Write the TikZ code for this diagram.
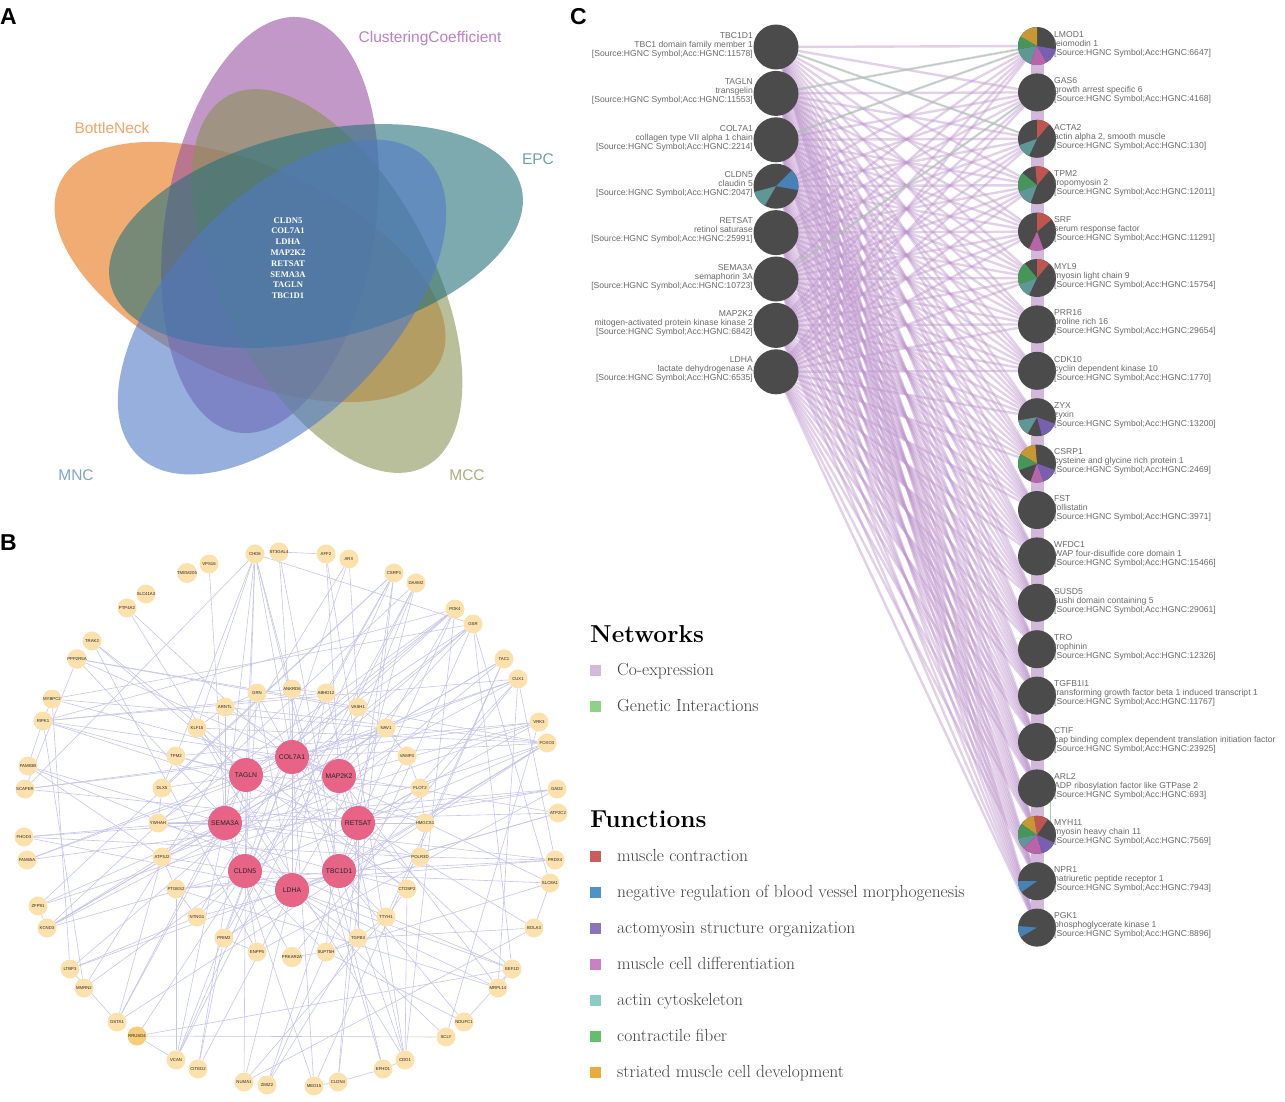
\documentclass[tikz,border=0pt]{standalone}
\usepackage{fontspec}
\newfontfamily\arialf{Liberation Sans}
\newfontfamily\timesf{Liberation Serif}
\pgfdeclarelayer{bg}
\pgfsetlayers{bg,main}
\definecolor{vOr}{RGB}{232,117,22}
\definecolor{vPu}{RGB}{152,83,163}
\definecolor{vTe}{RGB}{38,113,122}
\definecolor{vBl}{RGB}{80,122,197}
\definecolor{vOl}{RGB}{138,147,88}
\definecolor{tOr}{RGB}{240,165,105}
\definecolor{tPu}{RGB}{190,125,200}
\definecolor{tTe}{RGB}{110,160,165}
\definecolor{tBl}{RGB}{130,160,215}
\definecolor{tOl}{RGB}{170,175,130}
\definecolor{yel}{RGB}{252,225,172}
\definecolor{yeld}{RGB}{248,205,120}
\definecolor{hubc}{RGB}{232,100,135}
\definecolor{edgec}{RGB}{196,196,236}
\definecolor{cgray}{RGB}{75,75,75}
\definecolor{labg}{RGB}{105,105,105}
\definecolor{coex}{RGB}{190,150,205}
\definecolor{bandc}{RGB}{210,185,220}
\definecolor{gen}{RGB}{160,215,160}
\definecolor{pRed}{RGB}{190,85,80}
\definecolor{pBlue}{RGB}{70,130,180}
\definecolor{pPur}{RGB}{120,95,175}
\definecolor{pPink}{RGB}{185,100,170}
\definecolor{pTeal}{RGB}{95,150,150}
\definecolor{pGreen}{RGB}{70,150,90}
\definecolor{pOr}{RGB}{200,150,50}
\definecolor{lCo}{RGB}{210,185,220}
\definecolor{lGe}{RGB}{140,210,135}
\definecolor{lRed}{RGB}{200,95,90}
\definecolor{lBlue}{RGB}{80,145,200}
\definecolor{lPur}{RGB}{140,115,190}
\definecolor{lPink}{RGB}{200,130,195}
\definecolor{lTeal}{RGB}{140,205,195}
\definecolor{lGreen}{RGB}{100,190,110}
\definecolor{lOr}{RGB}{235,170,60}
\newcommand\pslice[5]{\fill[#5] (#1.center) -- ++(#3:#2) arc[start angle=#3,end angle=#4,radius=#2] -- cycle;}
\tikzset{
  venn/.style={fill opacity=0.6},
  vlab/.style={font=\arialf\fontsize{15.5}{16}\selectfont, inner sep=0pt},
  plab/.style={font=\arialf\bfseries\fontsize{23}{23}\selectfont, inner sep=0pt, anchor=base west},
  ynode/.style={circle, fill=yel, minimum size=19pt, inner sep=0pt, font=\arialf\fontsize{4.3}{4.3}\selectfont, text=black!85},
  hub/.style={circle, fill=hubc, minimum size=34pt, inner sep=0pt, font=\arialf\fontsize{6.8}{7}\selectfont, text=black!85},
  bedge/.style={draw=edgec, line width=0.6pt},
  cL/.style={circle, fill=cgray, minimum size=45pt, inner sep=0pt},
  cR/.style={circle, fill=cgray, minimum size=38pt, inner sep=0pt},
  clab/.style={font=\arialf\fontsize{8.6}{9}\selectfont, text=labg, inner sep=0pt},
  coexp/.style={draw=coex, line width=2.4pt, opacity=0.45},
  band/.style={draw=bandc, line width=13pt},
  genl/.style={draw=gen, line width=0.7pt},
  legsq/.style={minimum size=11pt, inner sep=0pt},
  legtxt/.style={font=\fontsize{17.5}{17.5}\selectfont, text=black!75, anchor=base west, inner sep=0pt},
  leghead/.style={font=\bfseries\fontsize{24.5}{24.5}\selectfont, anchor=base west, inner sep=0pt}
}
\begin{document}
\begin{tikzpicture}[x=1pt,y=-1pt]
\useasboundingbox (0,0) rectangle (1285,1101);
% ---------------- Panel A ----------------
\node[plab] (labA) at (0,24) {A};
\fill[vOr, venn, rotate around={-25:(250,272)}] (250,272) ellipse [x radius=210, y radius=105];
\fill[vPu, venn, rotate around={81:(270,225)}] (270,225) ellipse [x radius=210, y radius=105];
\fill[vOl, venn, rotate around={-62:(327,281)}] (327,281) ellipse [x radius=210, y radius=105];
\fill[vTe, venn, rotate around={13:(316,236)}] (316,236) ellipse [x radius=211, y radius=104];
\fill[vBl, venn, rotate around={46:(282,307)}] (282,307) ellipse [x radius=207, y radius=110];
\node[vlab, text=tPu] (lCC) at (430,38) {ClusteringCoefficient};
\node[vlab, text=tOr] (lBN) at (112,128) {BottleNeck};
\node[vlab, text=tTe] (lEPC) at (538,159) {EPC};
\node[vlab, text=tBl] (lMNC) at (76,475) {MNC};
\node[vlab, text=tOl] (lMCC) at (467,475) {MCC};
\node[font=\timesf\bfseries\fontsize{8.6}{10.8}\selectfont, text=white, align=center, inner sep=0pt] (core) at (288,258)
  {CLDN5\\COL7A1\\LDHA\\MAP2K2\\RETSAT\\SEMA3A\\TAGLN\\TBC1D1};
% ---------------- Panel B ----------------
\node[plab] (labB) at (0,550) {B};
\foreach \n/\x/\y in {CHD6/255/554, ST3GAL4/279/552, AFF2/326/554, ARX/349/559, VPS16/209/564, TMEM205/187/573,
  CSRP1/394/573, DAAM2/416/583, SLC41A3/146/594, PTP4A2/127/608, PDK4/455/609, GSR/473/624, TRAK2/92/641,
  PPP2R5A/77/659, TAC1/504/659, CUX1/518/679, MYBPC2/52/699, RIPK1/43/721, VRK3/539/722, FOXO3/547/743,
  FAM83B/28/766, SCAPER/25/789, GAD2/557/789, ATP2C2/558/813, FHOD3/24/837, FAM65A/27/860, PRDX4/555/860,
  SLC8A1/550/883, ZFP91/38/906, KCND3/47/928, BOLA3/534/928, LTBP3/70/969, EEF1D/512/969, MMRN2/84/988,
  MRPL14/498/988, GSTA1/117/1022, NDUFC1/464/1022, SCLY/446/1037, VCAN/176/1060, CITED2/198/1069,
  CDO1/405/1060, EFHD1/383/1069, NUMA1/244/1082, ZMIZ2/267/1085, MED15/314/1086, CLDN4/338/1082,
  GRN/257/693, ANKRD6/292/689, ABHD12/326/693, ARNTL/225/707, VASH1/358/707, KLF15/197/728, NAV1/386/728,
  TPM2/176/756, VAMP3/407/756, DLX5/162/788, FLOT2/420/788, YWHAH/158/823, HMGCS1/425/823, ATP5J2/162/857,
  POLR3D/420/857, PTGES2/176/889, CTDSP2/407/889, NTNG1/197/917, TTYH1/386/917, PRIM2/224/938, TGFB3/358/938,
  ENPP5/257/952, SUPT5H/326/952, PRKAR2A/292/957}
  \node[ynode] (b\n) at (\x,\y) {\n};
\node[ynode, fill=yeld] (bRRUSD4) at (137,1036) {RRUSD4};
\foreach \n/\x/\y in {COL7A1/292/757, TAGLN/246/775, MAP2K2/339/776, SEMA3A/225/823, RETSAT/358/823,
  CLDN5/245/871, TBC1D1/339/871, LDHA/292/890}
  \node[hub] (b\n) at (\x,\y) {\n};
\begin{pgfonlayer}{bg}
\foreach \t in {CHD6,CSRP1,PDK4,GRN,NAV1,SCAPER,FOXO3,CUX1,VCAN,PRIM2,EFHD1,TAGLN,LDHA,RIPK1,SLC8A1,ANKRD6,MAP2K2}
  \draw[bedge] (bCOL7A1) -- (b\t);
\foreach \t in {CHD6,TRAK2,RIPK1,PDK4,GSR,TPM2,KLF15,DLX5,FLOT2,GSTA1,NUMA1,CTDSP2,HMGCS1,FAM65A,CITED2,SEMA3A}
  \draw[bedge] (bTAGLN) -- (b\t);
\foreach \t in {AFF2,DAAM2,CUX1,VRK3,ATP2C2,NAV1,VASH1,PPP2R5A,MYBPC2,YWHAH,SUPT5H,CDO1,MRPL14,KCND3,ARNTL,RETSAT}
  \draw[bedge] (bMAP2K2) -- (b\t);
\foreach \t in {CHD6,VPS16,FAM83B,FHOD3,ZFP91,ATP5J2,YWHAH,GSR,TAC1,PRDX4,POLR3D,MED15,VCAN,GSTA1,ARNTL,CLDN5}
  \draw[bedge] (bSEMA3A) -- (b\t);
\foreach \t in {CSRP1,PDK4,VRK3,GAD2,HMGCS1,FLOT2,PTP4A2,RIPK1,SCAPER,TGFB3,EEF1D,BOLA3,CLDN4,ABHD12,TBC1D1}
  \draw[bedge] (bRETSAT) -- (b\t);
\foreach \t in {CHD6,ARX,TAC1,GSR,ATP5J2,NTNG1,RRUSD4,MMRN2,KCND3,ENPP5,SLC8A1,FOXO3,SUPT5H,GRN,PRKAR2A,LDHA}
  \draw[bedge] (bCLDN5) -- (b\t);
\foreach \t in {DAAM2,CUX1,FOXO3,PRDX4,CTDSP2,TTYH1,NDUFC1,CDO1,ZMIZ2,PTGES2,LTBP3,YWHAH,VAMP3,CHD6,ST3GAL4,LDHA}
  \draw[bedge] (bTBC1D1) -- (b\t);
\foreach \t in {GRN,TGFB3,PRIM2,CITED2,NUMA1,SCLY,MRPL14,EEF1D,ATP2C2,FHOD3,PPP2R5A,PDK4,ABHD12,KLF15}
  \draw[bedge] (bLDHA) -- (b\t);
\foreach \p/\q in {CHD6/SCAPER, CHD6/KLF15, CHD6/TPM2, CHD6/EFHD1, CHD6/GSR, ST3GAL4/AFF2, ST3GAL4/MED15,
  ARX/VASH1, CSRP1/NTNG1, CSRP1/DLX5, CSRP1/ZFP91, CSRP1/CLDN4, DAAM2/VCAN, DAAM2/KCND3, PDK4/RIPK1,
  PDK4/YWHAH, PDK4/CDO1, PDK4/ATP5J2, GSR/ZMIZ2, GSR/MYBPC2, GSR/SLC8A1, GSR/EEF1D, TAC1/TTYH1, CUX1/RIPK1,
  CUX1/PRKAR2A, CUX1/FAM65A, CUX1/PRDX4, CUX1/MRPL14, VRK3/TPM2, VRK3/ATP5J2, FOXO3/ARNTL, FOXO3/KLF15,
  FOXO3/GSTA1, FOXO3/PRIM2, GAD2/FHOD3, GAD2/ENPP5, ATP2C2/YWHAH, ATP2C2/NTNG1, PRDX4/PTGES2, PRDX4/POLR3D,
  SLC8A1/SUPT5H, SLC8A1/BOLA3, BOLA3/NUMA1, BOLA3/TGFB3, EEF1D/FAM83B, EEF1D/NDUFC1, MRPL14/PTGES2,
  NDUFC1/SUPT5H, RRUSD4/SCLY, RRUSD4/EEF1D, GSTA1/ATP5J2, GSTA1/LTBP3, VCAN/PTGES2, VCAN/RRUSD4, CITED2/PRIM2,
  LTBP3/MYBPC2, LTBP3/NTNG1, MMRN2/RIPK1, KCND3/ZFP91, KCND3/NAV1, KCND3/ATP5J2, ZFP91/FOXO3, FHOD3/POLR3D,
  FAM83B/ATP5J2, RIPK1/MYBPC2, RIPK1/ABHD12, RIPK1/FAM83B, PPP2R5A/VASH1, PPP2R5A/SCAPER, TRAK2/ENPP5,
  PTP4A2/CDO1, ANKRD6/ABHD12, GRN/ANKRD6, GRN/ARNTL, ARNTL/KLF15, NAV1/VASH1, NAV1/VAMP3, VAMP3/FLOT2,
  FLOT2/HMGCS1, HMGCS1/POLR3D, TTYH1/CTDSP2, TTYH1/TGFB3, TGFB3/SUPT5H, SUPT5H/PRKAR2A, ENPP5/PRIM2,
  NTNG1/PTGES2, PTGES2/ATP5J2, DLX5/TPM2, YWHAH/DLX5, MED15/CLDN4, CLDN4/EFHD1, EFHD1/CDO1, EEF1D/MRPL14,
  ZMIZ2/TGFB3, NUMA1/TTYH1, MED15/TAC1, CDO1/CTDSP2, MYBPC2/NAV1, SCAPER/VRK3, FAM65A/GAD2, TRAK2/CTDSP2,
  PPP2R5A/FOXO3, ARX/MMRN2, AFF2/CDO1, DAAM2/PRIM2, CSRP1/VCAN, TAC1/KCND3, GSR/LTBP3, VRK3/SCLY}
  \draw[bedge] (b\p) -- (b\q);
\end{pgfonlayer}
% ---------------- Panel C ----------------
\node[plab] (labC) at (570,24) {C};
\foreach \i/\y/\sym/\desc/\acc in {1/47/TBC1D1/TBC1 domain family member 1/11578, 2/93.4/TAGLN/transgelin/11553,
  3/139.8/COL7A1/collagen type VII alpha 1 chain/2214, 4/186.2/CLDN5/claudin 5/2047,
  5/232.6/RETSAT/retinol saturase/25991, 6/279/SEMA3A/semaphorin 3A/10723,
  7/325.4/MAP2K2/mitogen-activated protein kinase kinase 2/6842, 8/371.8/LDHA/lactate dehydrogenase A/6535}
{
  \node[cL] (l\i) at (776,\y) {};
  \node[clab, anchor=north east, align=right] (ll\i) at (753,\y-15) {\sym\\\desc\\{[}Source:HGNC Symbol;Acc:HGNC:\acc{]}};
}
\foreach \i/\y/\sym/\desc/\acc in {1/46/LMOD1/leiomodin 1/6647, 2/92.4/GAS6/growth arrest specific 6/4168,
  3/138.8/ACTA2/{actin alpha 2, smooth muscle}/130, 4/185.2/TPM2/tropomyosin 2/12011,
  5/231.6/SRF/serum response factor/11291, 6/278/MYL9/myosin light chain 9/15754,
  7/324.4/PRR16/proline rich 16/29654, 8/370.8/CDK10/cyclin dependent kinase 10/1770,
  9/417.2/ZYX/zyxin/13200, 10/463.6/CSRP1/cysteine and glycine rich protein 1/2469,
  11/510/FST/follistatin/3971, 12/556.4/WFDC1/WAP four-disulfide core domain 1/15466,
  13/602.8/SUSD5/sushi domain containing 5/29061, 14/649.2/TRO/trophinin/12326,
  15/695.6/TGFB1I1/transforming growth factor beta 1 induced transcript 1/11767,
  16/742/CTIF/cap binding complex dependent translation initiation factor/23925,
  17/788.4/ARL2/ADP ribosylation factor like GTPase 2/693, 18/834.8/MYH11/myosin heavy chain 11/7569,
  19/881.2/NPR1/natriuretic peptide receptor 1/7943, 20/927.6/PGK1/phosphoglycerate kinase 1/8896}
{
  \node[cR] (r\i) at (1037,\y) {};
  \node[clab, anchor=north west, align=left] (rl\i) at (1054,\y-15) {\sym\\\desc\\{[}Source:HGNC Symbol;Acc:HGNC:\acc{]}};
}
\begin{pgfonlayer}{bg}
\foreach \i in {1,...,8}
  \foreach \j in {1,...,20}
    \draw[coexp] (l\i.center) -- (r\j.center);
\foreach \j [count=\k from 2] in {1,...,19}
  \draw[band] (r\j.center) -- (r\k.center);
\draw[genl] (l1) -- (r3);
\draw[genl] (l2) -- (r1);
\draw[genl] (l3) -- (r1);
\draw[genl] (l6) -- (r2);
\draw[genl] (r17.south east) -- (r18.north east);
\end{pgfonlayer}
% pies
\pslice{r1}{19pt}{90}{150}{pOr}
\pslice{r1}{19pt}{150}{190}{pGreen}
\pslice{r1}{19pt}{190}{250}{pTeal}
\pslice{r1}{19pt}{250}{300}{pPink}
\pslice{r1}{19pt}{300}{350}{pPur}
\pslice{r3}{19pt}{50}{90}{pRed}
\pslice{r3}{19pt}{200}{245}{pTeal}
\pslice{r4}{19pt}{50}{95}{pRed}
\pslice{r4}{19pt}{140}{200}{pGreen}
\pslice{r4}{19pt}{200}{250}{pTeal}
\pslice{r5}{19pt}{40}{90}{pRed}
\pslice{r5}{19pt}{245}{290}{pPink}
\pslice{r6}{19pt}{50}{90}{pRed}
\pslice{r6}{19pt}{130}{200}{pGreen}
\pslice{r6}{19pt}{200}{245}{pTeal}
\pslice{r9}{19pt}{190}{240}{pTeal}
\pslice{r9}{19pt}{285}{340}{pPur}
\pslice{r10}{19pt}{95}{150}{pOr}
\pslice{r10}{19pt}{150}{200}{pGreen}
\pslice{r10}{19pt}{250}{290}{pPink}
\pslice{r10}{19pt}{290}{340}{pPur}
\pslice{r18}{19pt}{55}{100}{pRed}
\pslice{r18}{19pt}{100}{145}{pOr}
\pslice{r18}{19pt}{145}{190}{pGreen}
\pslice{r18}{19pt}{190}{225}{pTeal}
\pslice{r18}{19pt}{225}{285}{pPink}
\pslice{r18}{19pt}{285}{335}{pPur}
\pslice{r19}{19pt}{180}{215}{pBlue}
\pslice{r20}{19pt}{175}{210}{pBlue}
\pslice{l4}{22.5pt}{-10}{45}{pBlue}
\pslice{l4}{22.5pt}{195}{240}{pTeal}
% legend
\node[leghead] (hNet) at (590,642) {Networks};
\node[legsq, fill=lCo] (sq1) at (595,670) {};
\node[legtxt] (t1) at (617,675) {Co-expression};
\node[legsq, fill=lGe] (sq2) at (595,706) {};
\node[legtxt] (t2) at (617,711) {Genetic Interactions};
\node[leghead] (hFun) at (590,827) {Functions};
\foreach \c/\y/\t [count=\k] in {lRed/856/muscle contraction, lBlue/892/negative regulation of blood vessel morphogenesis,
  lPur/928/actomyosin structure organization, lPink/964/muscle cell differentiation,
  lTeal/1000/actin cytoskeleton, lGreen/1036/contractile fiber, lOr/1072/striated muscle cell development}
{
  \node[legsq, fill=\c] (fs\k) at (595,\y) {};
  \node[legtxt] (ft\k) at (617,\y+5) {\t};
}
\end{tikzpicture}
\end{document}
